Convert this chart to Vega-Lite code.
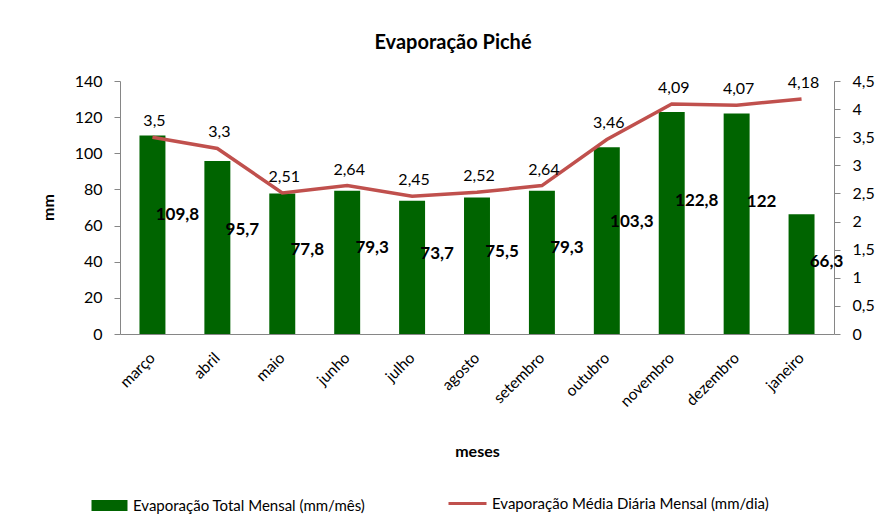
{
  "$schema": "https://vega.github.io/schema/vega-lite/v6.json",
  "autosize": "none",
  "width": 714,
  "height": 253,
  "padding": {"left": 120, "top": 81, "right": 52, "bottom": 195},
  "background": "white",
  "config": {
    "locale": {"number": {"decimal": ",", "thousands": ".", "grouping": [3], "currency": ["R$", ""]}},
    "font": "Lato",
    "view": {"stroke": null},
    "axis": {"grid": false, "domainColor": "#868686", "tickColor": "#868686", "labelColor": "#000", "labelFont": "Lato", "labelFontSize": 16, "titleFont": "Lato", "titleColor": "#000", "labelOverlap": false},
    "legend": {"labelFont": "Lato", "labelFontSize": 15, "labelColor": "#000", "labelLimit": 0}
  },
  "title": {"text": "Evaporação Piché", "font": "Lato", "fontSize": 20, "fontWeight": "bold", "anchor": "middle", "dx": -24, "offset": 20, "color": "#000"},
  "data": {"values": [
    {"mes": "março", "total": 109.8, "media": 3.5},
    {"mes": "abril", "total": 95.7, "media": 3.3},
    {"mes": "maio", "total": 77.8, "media": 2.51},
    {"mes": "junho", "total": 79.3, "media": 2.64},
    {"mes": "julho", "total": 73.7, "media": 2.45},
    {"mes": "agosto", "total": 75.5, "media": 2.52},
    {"mes": "setembro", "total": 79.3, "media": 2.64},
    {"mes": "outubro", "total": 103.3, "media": 3.46},
    {"mes": "novembro", "total": 122.8, "media": 4.09},
    {"mes": "dezembro", "total": 122, "media": 4.07},
    {"mes": "janeiro", "total": 66.3, "media": 4.18}
  ]},
  "encoding": {
    "x": {
      "field": "mes", "type": "nominal", "sort": null,
      "scale": {"paddingInner": 0.6, "paddingOuter": 0.3},
      "axis": {"title": "meses", "titleFontSize": 16, "titleFontWeight": "bold", "titleY": 117, "titleBaseline": "middle", "labelAngle": -45, "labelAlign": "right", "labelBaseline": "middle", "labelPadding": 21, "tickSize": 0, "labelFontSize": 15.5}
    }
  },
  "layer": [
    {
      "layer": [
        {
          "mark": {"type": "bar"},
          "encoding": {
            "y": {"field": "total", "type": "quantitative", "scale": {"domain": [0, 140]},
              "axis": {"title": "mm", "titleFontSize": 16, "titleFontWeight": "bold", "titleX": -72, "titleY": 126, "titleAngle": -90, "titleBaseline": "middle", "values": [0, 20, 40, 60, 80, 100, 120, 140], "tickSize": 6, "labelPadding": 12}},
            "fill": {"datum": "Evaporação Total  Mensal (mm/mês)", "type": "nominal",
              "scale": {"range": ["#006400"]},
              "legend": {"title": null, "orient": "none", "legendX": -22, "legendY": 413, "symbolType": "M-1.6,-0.5L1.6,-0.5L1.6,0.5L-1.6,0.5Z", "symbolSize": 506, "symbolStrokeWidth": 0, "labelOffset": 12}}
          }
        },
        {
          "transform": [{"calculate": "datum.total * 0.6", "as": "pos_rotulo"}],
          "mark": {"type": "text", "fontWeight": "bold", "fontSize": 17, "dx": 25, "color": "#000"},
          "encoding": {
            "y": {"field": "pos_rotulo", "type": "quantitative",
              "axis": {"title": "mm", "titleFontSize": 16, "titleFontWeight": "bold", "titleX": -72, "titleY": 126, "titleAngle": -90, "titleBaseline": "middle", "values": [0, 20, 40, 60, 80, 100, 120, 140], "tickSize": 6, "labelPadding": 12}},
            "text": {"field": "total", "type": "quantitative", "format": "~g"}
          }
        }
      ]
    },
    {
      "layer": [
        {
          "mark": {"type": "line", "strokeWidth": 3.5},
          "encoding": {
            "y": {"field": "media", "type": "quantitative", "scale": {"domain": [0, 4.5]},
              "axis": {"title": null, "orient": "right", "values": [0, 0.5, 1, 1.5, 2, 2.5, 3, 3.5, 4, 4.5], "format": "~g", "tickSize": 6, "labelPadding": 12}},
            "stroke": {"datum": "Evaporação Média Diária Mensal (mm/dia)", "type": "nominal",
              "scale": {"range": ["#C0504D"]},
              "legend": {"title": null, "orient": "none", "legendX": 327, "legendY": 402, "symbolType": "stroke", "symbolStrokeWidth": 3, "symbolSize": 1444, "labelOffset": 4}}
          }
        },
        {
          "mark": {"type": "text", "fontSize": 16, "baseline": "bottom", "dy": -8, "dx": 2, "color": "#000"},
          "encoding": {
            "y": {"field": "media", "type": "quantitative",
              "axis": {"title": null, "orient": "right", "values": [0, 0.5, 1, 1.5, 2, 2.5, 3, 3.5, 4, 4.5], "format": "~g", "tickSize": 6, "labelPadding": 12}},
            "text": {"field": "media", "type": "quantitative", "format": "~g"}
          }
        }
      ]
    }
  ],
  "resolve": {"scale": {"y": "independent", "fill": "independent", "stroke": "independent"}}
}
